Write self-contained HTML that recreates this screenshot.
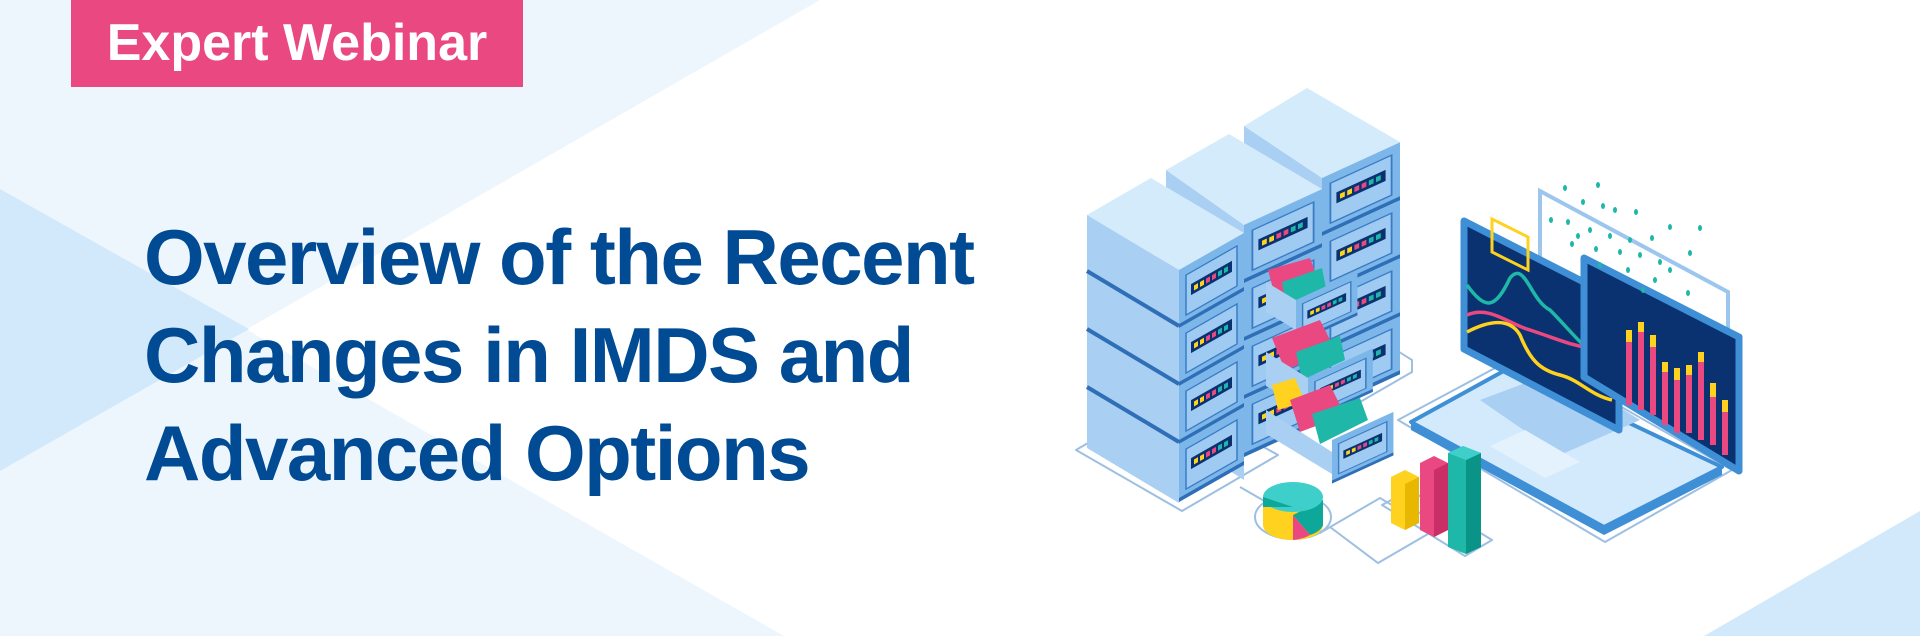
<!DOCTYPE html>
<html><head><meta charset="utf-8"><style>
html,body{margin:0;padding:0}
body{width:1920px;height:636px;overflow:hidden;position:relative;background:#fff;font-family:"Liberation Sans",sans-serif}
svg{position:absolute;left:0;top:0}
.tag{position:absolute;left:71px;top:0;width:452px;height:87px;background:#ea4880;color:#fff;font-weight:bold;font-size:52px;line-height:87px;text-align:center;letter-spacing:0px}
.title{position:absolute;left:144px;top:208px;color:#004b93;font-weight:bold;font-size:78px;line-height:98px;letter-spacing:-1.5px;white-space:nowrap}
</style></head><body>
<svg width="1920" height="636" viewBox="0 0 1920 636">
<defs>
<g id="pan">
 <rect x="0" y="0" width="65" height="58" fill="#7db7ea"/>
 <rect x="7" y="9" width="51" height="40" fill="#9fcbf2" stroke="#3a7cc4" stroke-width="1.5"/>
 <rect x="12" y="21" width="41" height="11" fill="#0a3270"/>
 <rect x="15" y="24" width="4" height="5" fill="#ffd21f"/><rect x="21" y="24" width="4" height="5" fill="#ffd21f"/>
 <rect x="27" y="24" width="4" height="5" fill="#ea4880"/><rect x="33" y="24" width="4" height="5" fill="#ea4880"/>
 <rect x="39" y="24" width="4" height="5" fill="#1fb8a8"/><rect x="45" y="24" width="4" height="5" fill="#1fb8a8"/>
 <rect x="0" y="54" width="65" height="4" fill="#2f6fb8"/>
</g>
</defs>
<polygon points="0,0 820,0 0,471" fill="#eef6fd"/>
<polygon points="0,189 784,636 0,636" fill="#eef6fd"/>
<polygon points="0,189 249,329 0,471" fill="#d2e9fb"/>
<polygon points="1704,636 1920,511 1920,636" fill="#d2e9fb"/>

<g fill="none" stroke="#9dbfe2" stroke-width="2">
<polygon points="1076,450 1182,511 1278,455 1170,395" stroke-linejoin="round"/>
<path d="M1240,487 L1320,533 L1380,498 L1412,517 L1470,485"/>
<path d="M1380,340 L1412,360 L1412,372 L1360,402"/>
<ellipse cx="1293" cy="517" rx="38" ry="22"/>
<path d="M1330,527 L1378,563 L1440,527"/>
<polygon points="1382,505 1465,556 1492,540 1410,490" stroke-linejoin="round"/>
<polygon points="1398,420 1605,542 1732,470 1525,352" stroke-linejoin="round"/>
</g>

<polygon points="1244,126 1307,88 1400,142 1322,178" fill="#d4ebfc"/>
<polygon points="1244,126 1322,178 1322,430 1244,380" fill="#a9cff2"/>
<g transform="matrix(1.2,-0.55,0,1,1322,178)">
 <use href="#pan"/><use href="#pan" y="58"/><use href="#pan" y="116"/><use href="#pan" y="174"/>
</g>
<polygon points="1166,170 1229,134 1322,189 1244,225" fill="#d4ebfc"/>
<polygon points="1166,170 1244,225 1244,480 1166,430" fill="#a9cff2"/>
<g transform="matrix(1.2,-0.55,0,1,1244,225)">
 <use href="#pan"/><use href="#pan" y="58"/><use href="#pan" y="116"/><use href="#pan" y="174"/>
</g>
<g>
 <polygon points="1268,270 1310,258 1318,280 1276,300" fill="#ea4880"/>
 <polygon points="1282,282 1322,268 1326,288 1286,306" fill="#1fb8a8"/>
 <polygon points="1266,282 1296,300 1296,330 1266,312" fill="#a9cff2"/>
 <g transform="matrix(1.05,-0.48,0,1,1296,300)"><use href="#pan" transform="scale(0.9,0.75)"/></g>
 <polygon points="1272,338 1320,320 1335,350 1285,370" fill="#ea4880"/>
 <polygon points="1296,352 1340,336 1345,360 1302,380" fill="#1fb8a8"/>
 <polygon points="1266,352 1308,378 1308,410 1266,386" fill="#a9cff2"/>
 <g transform="matrix(1.05,-0.48,0,1,1308,378)"><use href="#pan" transform="scale(0.95,0.75)"/></g>
 <polygon points="1272,385 1295,378 1305,402 1278,410" fill="#ffd21f"/>
 <polygon points="1290,400 1330,385 1345,415 1300,432" fill="#ea4880"/>
 <polygon points="1312,414 1360,398 1368,420 1320,444" fill="#1fb8a8"/>
 <polygon points="1266,410 1332,452 1332,474 1266,434" fill="#a9cff2"/>
 <g transform="matrix(1.05,-0.48,0,1,1332,440)"><use href="#pan" transform="scale(0.9,0.75)"/></g>
</g>
<polygon points="1087,215 1151,178 1244,233 1179,270" fill="#d4ebfc"/>
<polygon points="1087,215 1179,270 1179,503 1087,448" fill="#a9cff2"/>
<g stroke="#2f6fb8" stroke-width="4">
 <line x1="1087" y1="271" x2="1179" y2="326"/><line x1="1087" y1="329" x2="1179" y2="384"/><line x1="1087" y1="387" x2="1179" y2="442"/>
</g>
<g transform="matrix(1,-0.57,0,1,1179,270)">
 <use href="#pan"/><use href="#pan" y="58"/><use href="#pan" y="116"/><use href="#pan" y="174"/>
</g>

<polygon points="1540,191 1728,292 1728,372 1540,270" fill="#fff" stroke="#9dc6ee" stroke-width="4"/>
<polygon points="1411,422 1511,367 1722,467 1604,527" fill="#d2eafc" stroke="#3f8fd6" stroke-width="4" stroke-linejoin="round"/>
<polygon points="1411,422 1604,527 1604,535 1411,430" fill="#3f8fd6"/>
<polygon points="1604,527 1722,467 1722,475 1604,535" fill="#3f8fd6"/>
<polygon points="1480,400 1560,370 1640,420 1560,455" fill="#a9cff2"/>
<polygon points="1490,446 1525,430 1580,462 1545,478" fill="#e4f2fd"/>
<polygon points="1464,221 1619,300 1619,430 1464,349" fill="#0a3270" stroke="#3f8fd6" stroke-width="7" stroke-linejoin="round"/>
<g fill="none" stroke-width="3.5">
 <path d="M1467,285 C1485,310 1495,310 1510,278 C1525,260 1530,300 1550,310 C1570,330 1580,345 1612,370" stroke="#1fb8a8"/>
 <path d="M1467,315 C1490,305 1510,325 1530,330 C1560,340 1570,345 1590,348 C1605,350 1610,360 1614,368" stroke="#ea4880"/>
 <path d="M1467,332 C1490,320 1510,318 1520,335 C1530,360 1540,370 1560,375 C1580,380 1590,395 1612,400" stroke="#ffd21f"/>
</g>
<polygon points="1492,219 1528,237 1528,270 1492,252" fill="none" stroke="#ffd21f" stroke-width="3"/>
<polygon points="1584,258 1739,337 1739,471 1584,377" fill="#0a3270" stroke="#3f8fd6" stroke-width="7" stroke-linejoin="round"/>
<g>
 <rect x="1626" y="340" width="6" height="65" fill="#ea4880"/><rect x="1626" y="330" width="6" height="12" fill="#ffd21f"/>
 <rect x="1638" y="330" width="6" height="80" fill="#ea4880"/><rect x="1638" y="322" width="6" height="10" fill="#ffd21f"/>
 <rect x="1650" y="345" width="6" height="70" fill="#ea4880"/><rect x="1650" y="335" width="6" height="12" fill="#ffd21f"/>
 <rect x="1662" y="370" width="6" height="55" fill="#ea4880"/><rect x="1662" y="362" width="6" height="10" fill="#ffd21f"/>
 <rect x="1674" y="378" width="6" height="55" fill="#ea4880"/><rect x="1674" y="368" width="6" height="12" fill="#ffd21f"/>
 <rect x="1686" y="373" width="6" height="60" fill="#ea4880"/><rect x="1686" y="365" width="6" height="10" fill="#ffd21f"/>
 <rect x="1698" y="360" width="6" height="80" fill="#ea4880"/><rect x="1698" y="352" width="6" height="10" fill="#ffd21f"/>
 <rect x="1710" y="395" width="6" height="50" fill="#ea4880"/><rect x="1710" y="383" width="6" height="14" fill="#ffd21f"/>
 <rect x="1722" y="410" width="6" height="45" fill="#ea4880"/><rect x="1722" y="400" width="6" height="12" fill="#ffd21f"/>
</g>
<g fill="#1fb8a8">
 <ellipse cx="1565" cy="188" rx="2" ry="3"/><ellipse cx="1598" cy="185" rx="2" ry="3"/><ellipse cx="1583" cy="202" rx="2" ry="3"/>
 <ellipse cx="1603" cy="206" rx="2" ry="3"/><ellipse cx="1615" cy="210" rx="2" ry="3"/><ellipse cx="1636" cy="212" rx="2" ry="3"/>
 <ellipse cx="1551" cy="220" rx="2" ry="3"/><ellipse cx="1568" cy="222" rx="2" ry="3"/><ellipse cx="1590" cy="230" rx="2" ry="3"/>
 <ellipse cx="1578" cy="236" rx="2" ry="3"/><ellipse cx="1610" cy="236" rx="2" ry="3"/><ellipse cx="1630" cy="240" rx="2" ry="3"/>
 <ellipse cx="1652" cy="238" rx="2" ry="3"/><ellipse cx="1670" cy="227" rx="2" ry="3"/><ellipse cx="1700" cy="228" rx="2" ry="3"/>
 <ellipse cx="1572" cy="244" rx="2" ry="3"/><ellipse cx="1596" cy="249" rx="2" ry="3"/><ellipse cx="1620" cy="252" rx="2" ry="3"/>
 <ellipse cx="1640" cy="255" rx="2" ry="3"/><ellipse cx="1660" cy="262" rx="2" ry="3"/><ellipse cx="1690" cy="253" rx="2" ry="3"/>
 <ellipse cx="1600" cy="265" rx="2" ry="3"/><ellipse cx="1628" cy="270" rx="2" ry="3"/><ellipse cx="1655" cy="280" rx="2" ry="3"/>
 <ellipse cx="1670" cy="270" rx="2" ry="3"/><ellipse cx="1688" cy="293" rx="2" ry="3"/><ellipse cx="1643" cy="290" rx="2" ry="3"/>
</g>
<path d="M1263,500 L1263,525 A30,15 0 0 0 1323,525 L1323,500 Z" fill="#ffd21f"/>
<path d="M1293,515 L1323,500 L1323,525 A30,15 0 0 1 1310,535 Z" fill="#0ea89a"/>
<path d="M1293,515 L1310,535 A30,15 0 0 1 1293,540 Z" fill="#ea4880"/>
<ellipse cx="1293" cy="497" rx="30" ry="15" fill="#3ecfcb"/>
<path d="M1263,497 L1263,507 L1293,507 Z" fill="#0ea89a"/>
<polygon points="1391,477 1405,470 1419,477 1419,523 1405,530 1391,523" fill="#ffd21f"/>
<polygon points="1405,484 1419,477 1419,523 1405,530" fill="#e8b800"/>
<polygon points="1420,463 1434,456 1448,463 1448,530 1434,537 1420,530" fill="#ea4880"/>
<polygon points="1434,470 1448,463 1448,530 1434,537" fill="#c92f66"/>
<polygon points="1448,453 1463,446 1481,453 1481,547 1466,554 1448,547" fill="#1fb8a8"/>
<polygon points="1466,460 1481,453 1481,547 1466,554" fill="#0a9488"/>
<polygon points="1448,453 1463,446 1481,453 1466,460" fill="#3ecfcb"/>
</svg>
<div class="tag">Expert Webinar</div>
<div class="title">Overview of the Recent<br>Changes in IMDS and<br>Advanced Options</div>
</body></html>
